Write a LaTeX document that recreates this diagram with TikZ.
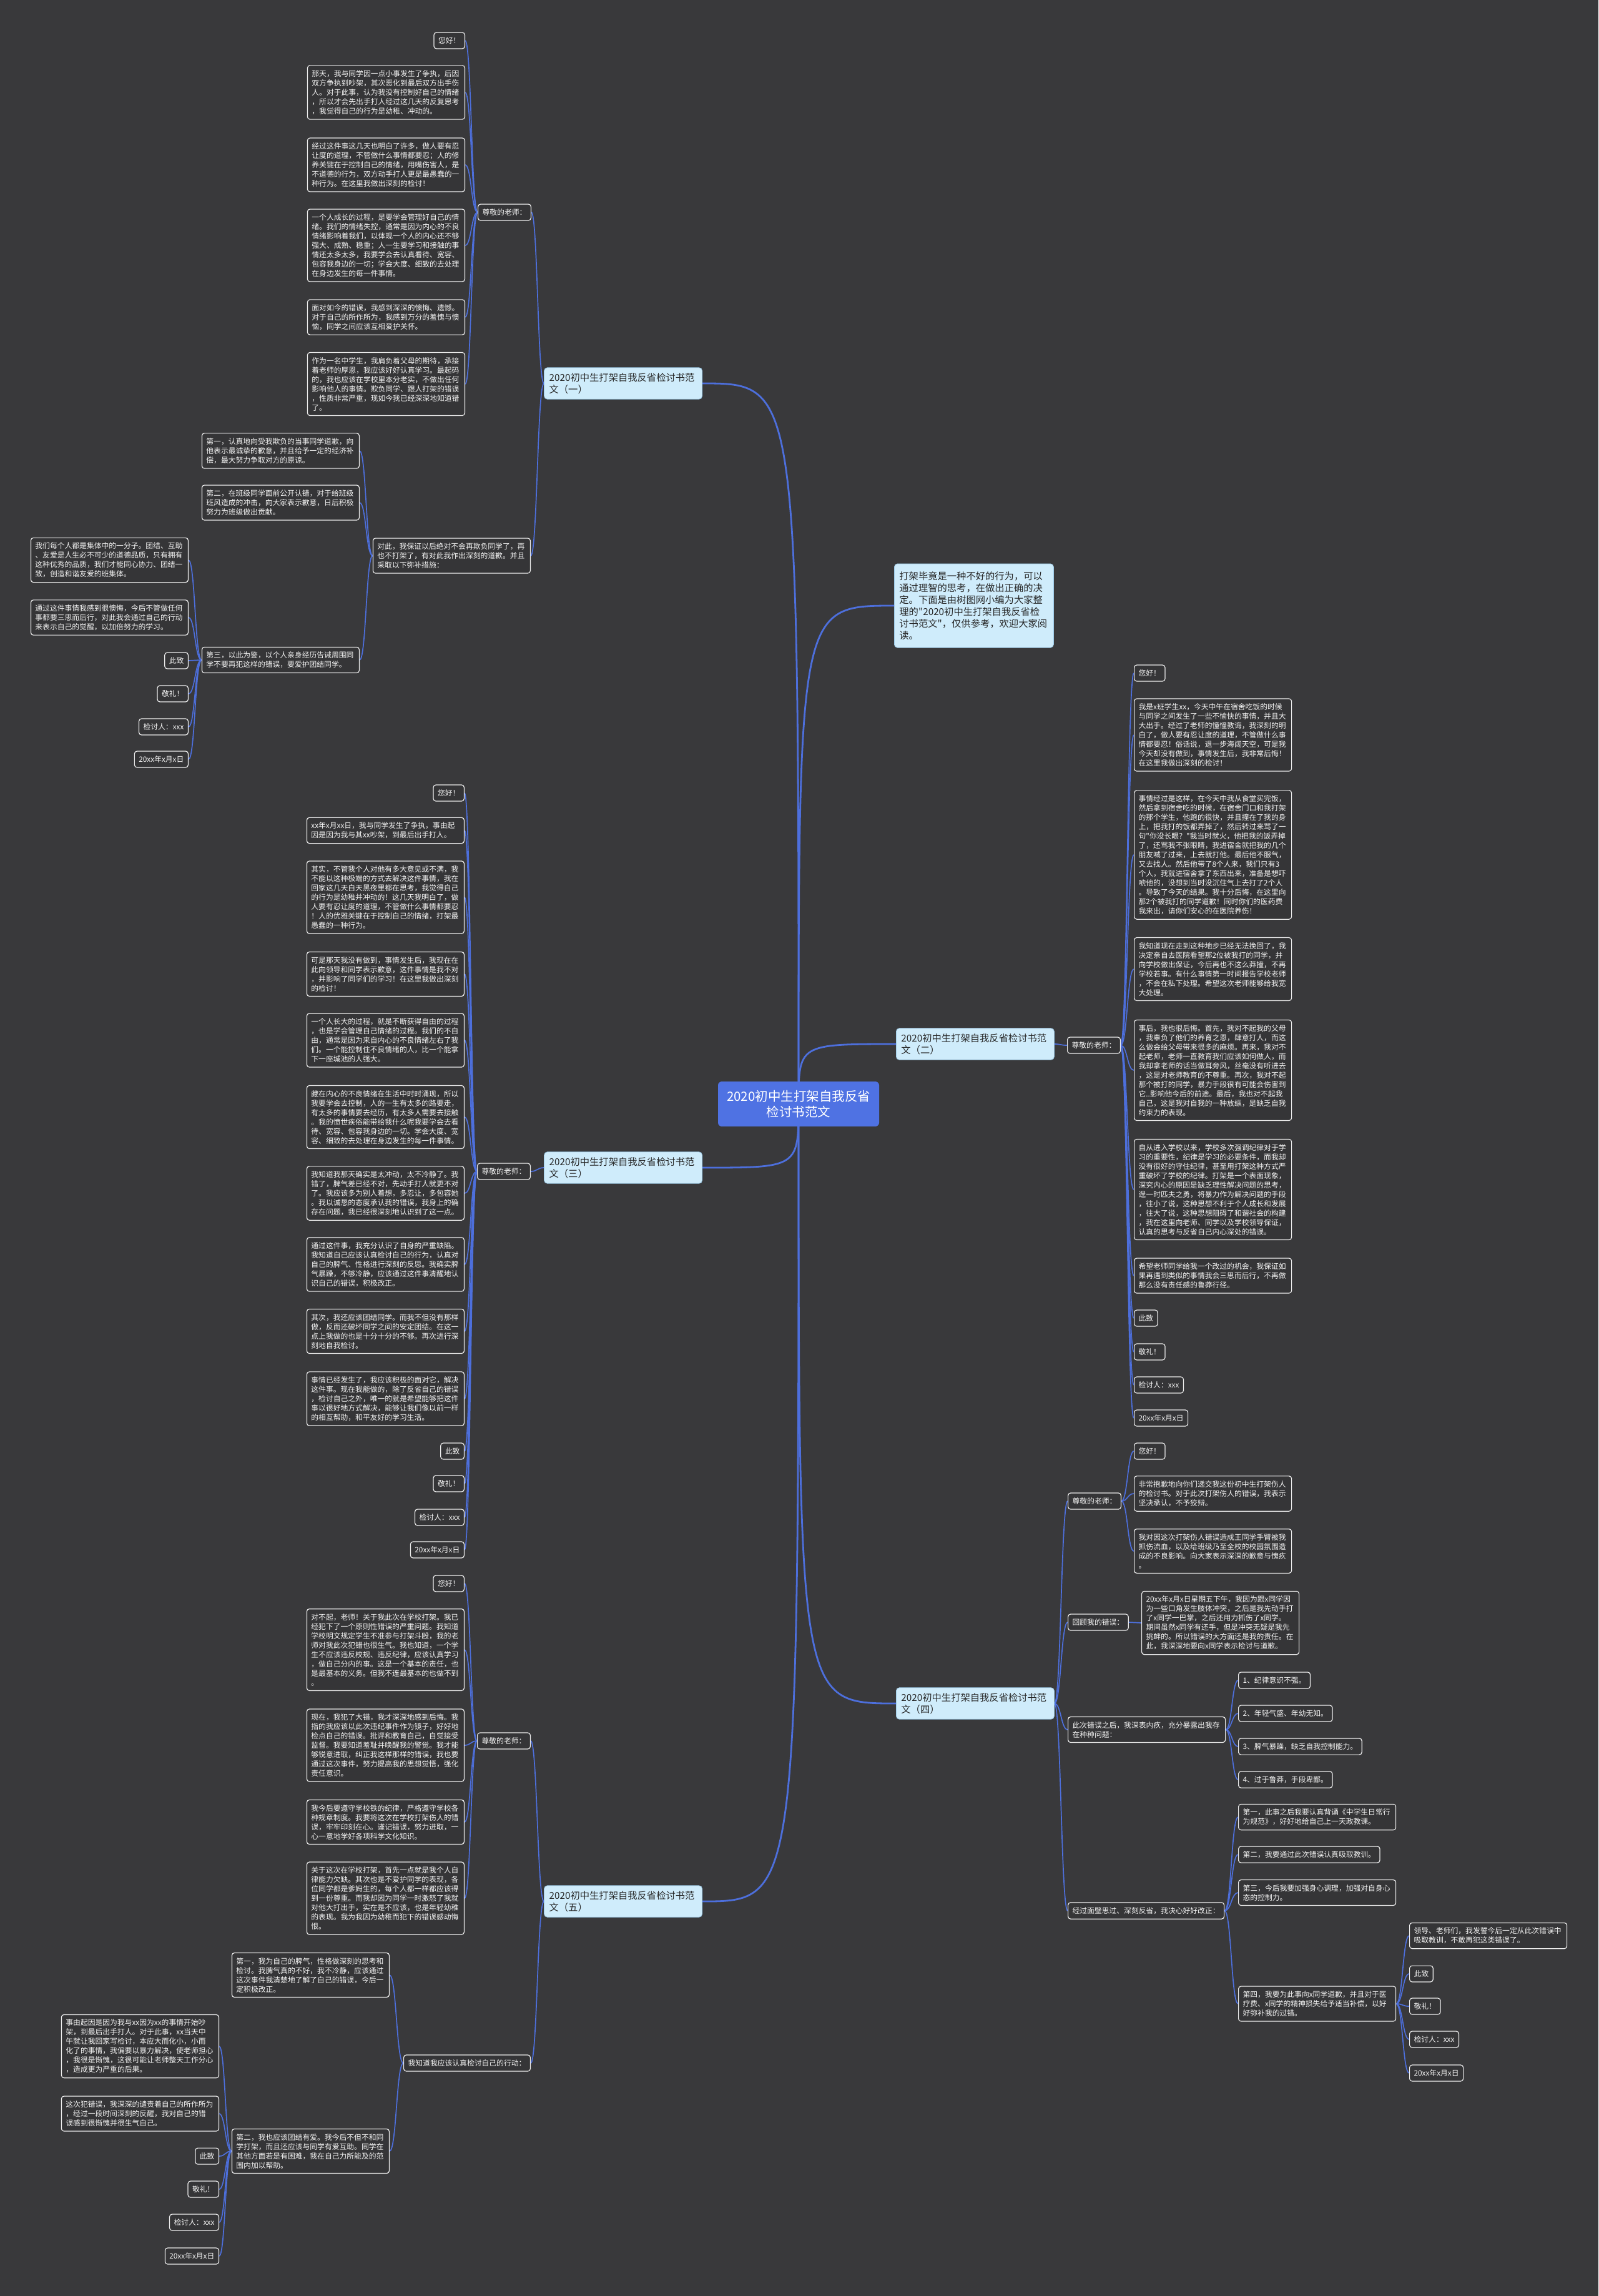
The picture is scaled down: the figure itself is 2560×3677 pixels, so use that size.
\documentclass[tikz,border=0pt]{standalone}
\usepackage{fontspec}
\newfontfamily\cjk{Noto Sans CJK SC}
\usetikzlibrary{calc}
\pgfdeclarelayer{back}
\pgfsetlayers{back,main}
\definecolor{bgc}{HTML}{39393B}
\definecolor{leaffill}{HTML}{353537}
\definecolor{leafline}{HTML}{EDEDED}
\definecolor{leaftext}{HTML}{F4F4F4}
\definecolor{brfill}{HTML}{CFECFB}
\definecolor{brline}{HTML}{9CC9E6}
\definecolor{brtext}{HTML}{262626}
\definecolor{cfill}{HTML}{4F72E3}
\definecolor{conc}{HTML}{4D6FDC}
\tikzset{
 leaf/.style={draw=leafline, line width=1.2pt, fill=leaffill, rounded corners=4pt, text=leaftext,
   font=\cjk\fontsize{11.8pt}{15pt}\selectfont, inner xsep=7pt, inner ysep=7.5pt, align=left},
 lw/.style={leaf, text width=238pt},
 br/.style={fill=brfill, draw=brline, line width=0.8pt, rounded corners=5pt, text=brtext,
   font=\cjk\fontsize{15.3pt}{19pt}\selectfont, inner xsep=8pt, inner ysep=8.5pt, align=left, text width=237pt},
 intro/.style={br, inner ysep=12.5pt, text width=239pt},
 cen/.style={fill=cfill, draw=none, rounded corners=6pt, text=white,
   font=\cjk\fontsize{20.5pt}{25pt}\selectfont, inner xsep=14pt, inner ysep=14pt, align=center},
 conn/.style={draw=conc, line width=1.7pt},
 mconn/.style={draw=conc, line width=2.8pt}
}
\newcommand\lkL[2]{\draw[conn] let \p1=(#1.west), \p2=(#2.east) in (\p1) .. controls ({(\x1+\x2)/2},\y1) and ({(\x1+\x2)/2},\y2) .. (\p2);}
\newcommand\lkR[2]{\draw[conn] let \p1=(#1.east), \p2=(#2.west) in (\p1) .. controls ({(\x1+\x2)/2},\y1) and ({(\x1+\x2)/2},\y2) .. (\p2);}
\begin{document}
\begin{tikzpicture}[x=1pt,y=-1pt]
\useasboundingbox (0,0) rectangle (2560,3677);
% center and branches
\node[cen] (C0) at (1279,1768) {2020初中生打架自我反省\\检讨书范文};
\node[intro, anchor=west] (IN) at (1432,970) {打架毕竟是一种不好的行为，可以\\通过理智的思考，在做出正确的决\\定。下面是由树图网小编为大家整\\理的"2020初中生打架自我反省检\\讨书范文"，仅供参考，欢迎大家阅\\读。};
\node[br, anchor=east] (B1) at (1125,614) {2020初中生打架自我反省检讨书范\\文（一）};
\node[br, anchor=west] (B2) at (1435,1672) {2020初中生打架自我反省检讨书范\\文（二）};
\node[br, anchor=east] (B3) at (1125,1870) {2020初中生打架自我反省检讨书范\\文（三）};
\node[br, anchor=west] (B4) at (1435,2728) {2020初中生打架自我反省检讨书范\\文（四）};
\node[br, anchor=east] (B5) at (1125,3045) {2020初中生打架自我反省检讨书范\\文（五）};
% ---------- branch 1
\node[leaf, anchor=east] (T1) at (851,340) {尊敬的老师：};
\node[leaf, anchor=east] (a1) at (745,65) {您好！};
\node[lw, anchor=east] (a2) at (745,148) {那天，我与同学因一点小事发生了争执，后因\\双方争执到吵架，其次恶化到最后双方出手伤\\人。对于此事，认为我没有控制好自己的情绪\\，所以才会先出手打人经过这几天的反复思考\\，我觉得自己的行为是幼稚、冲动的。};
\node[lw, anchor=east] (a3) at (745,264) {经过这件事这几天也明白了许多，做人要有忍\\让度的道理，不管做什么事情都要忍；人的修\\养关键在于控制自己的情绪，用嘴伤害人，是\\不道德的行为，双方动手打人更是最愚蠢的一\\种行为。在这里我做出深刻的检讨！};
\node[lw, anchor=east] (a4) at (745,393) {一个人成长的过程，是要学会管理好自己的情\\绪。我们的情绪失控，通常是因为内心的不良\\情绪影响着我们，以体现一个人的内心还不够\\强大、成熟、稳重；人一生要学习和接触的事\\情还太多太多，我要学会去认真看待、宽容、\\包容我身边的一切；学会大度、细致的去处理\\在身边发生的每一件事情。};
\node[lw, anchor=east] (a5) at (745,508) {面对如今的错误，我感到深深的懊悔、遗憾。\\对于自己的所作所为，我感到万分的羞愧与懊\\恼，同学之间应该互相爱护关怀。};
\node[lw, anchor=east] (a6) at (745,615) {作为一名中学生，我肩负着父母的期待，承接\\着老师的厚恩，我应该好好认真学习。最起码\\的，我也应该在学校里本分老实，不做出任何\\影响他人的事情。欺负同学、跟人打架的错误\\，性质非常严重，现如今我已经深深地知道错\\了。};
\node[lw, anchor=east] (D1) at (850,890) {对此，我保证以后绝对不会再欺负同学了，再\\也不打架了，有对此我作出深刻的道歉。并且\\采取以下弥补措施：};
\node[lw, anchor=east] (d1) at (576,722) {第一，认真地向受我欺负的当事同学道歉，向\\他表示最诚挚的歉意，并且给予一定的经济补\\偿，最大努力争取对方的原谅。};
\node[lw, anchor=east] (d2) at (576,805) {第二，在班级同学面前公开认错，对于给班级\\班风造成的冲击，向大家表示歉意，日后积极\\努力为班级做出贡献。};
\node[lw, anchor=east] (d3) at (576,1057) {第三，以此为鉴，以个人亲身经历告诫周围同\\学不要再犯这样的错误，要爱护团结同学。};
\node[lw, anchor=east] (e1) at (302,897) {我们每个人都是集体中的一分子。团结、互助\\、友爱是人生必不可少的道德品质，只有拥有\\这种优秀的品质，我们才能同心协力、团结一\\致，创造和谐友爱的班集体。};
\node[lw, anchor=east] (e2) at (302,989) {通过这件事情我感到很懊悔，今后不管做任何\\事都要三思而后行，对此我会通过自己的行动\\来表示自己的觉醒，以加倍努力的学习。};
\node[leaf, anchor=east] (e3) at (302,1058) {此致};
\node[leaf, anchor=east] (e4) at (302,1111) {敬礼！};
\node[leaf, anchor=east] (e5) at (302,1164) {检讨人：xxx};
\node[leaf, anchor=east] (e6) at (302,1216) {20xx年x月x日};
% ---------- branch 2
\node[leaf, anchor=west] (T2) at (1709,1674) {尊敬的老师：};
\node[leaf, anchor=west] (f1) at (1816,1078) {您好！};
\node[lw, anchor=west] (f2) at (1816,1177) {我是x班学生xx，今天中午在宿舍吃饭的时候\\与同学之间发生了一些不愉快的事情，并且大\\大出手。经过了老师的憧憧教诲，我深刻的明\\白了，做人要有忍让度的道理，不管做什么事\\情都要忍！俗话说，退一步海阔天空，可是我\\今天却没有做到，事情发生后，我非常后悔！\\在这里我做出深刻的检讨！};
\node[lw, anchor=west] (f3) at (1816,1369) {事情经过是这样，在今天中我从食堂买完饭，\\然后拿到宿舍吃的时候，在宿舍门口和我打架\\的那个学生，他跑的很快，并且撞在了我的身\\上，把我打的饭都弄掉了，然后转过来骂了一\\句"你没长眼？"我当时就火，他把我的饭弄掉\\了，还骂我不张眼睛，我进宿舍就把我的几个\\朋友喊了过来，上去就打他。最后他不服气，\\又去找人。然后他带了8个人来，我们只有3\\个人，我就进宿舍拿了东西出来，准备是想吓\\唬他的，没想到当时没沉住气上去打了2个人\\。导致了今天的结果。我十分后悔，在这里向\\那2个被我打的同学道歉！同时你们的医药费\\我来出，请你们安心的在医院养伤！};
\node[lw, anchor=west] (f4) at (1816,1552) {我知道现在走到这种地步已经无法挽回了，我\\决定亲自去医院看望那2位被我打的同学，并\\向学校做出保证，今后再也不这么莽撞，不再\\学校若事。有什么事情第一时间报告学校老师\\，不会在私下处理。希望这次老师能够给我宽\\大处理。};
\node[lw, anchor=west] (f5) at (1816,1714) {事后，我也很后悔。首先，我对不起我的父母\\，我辜负了他们的养育之恩，肆意打人，而这\\么做会给父母带来很多的麻烦。再来，我对不\\起老师，老师一直教育我们应该如何做人，而\\我却拿老师的话当做耳旁风，丝毫没有听进去\\，这是对老师教育的不尊重。再次，我对不起\\那个被打的同学，暴力手段很有可能会伤害到\\它..影响他今后的前途。最后，我也对不起我\\自己，这是我对自我的一种放纵，是缺乏自我\\约束力的表现。};
\node[lw, anchor=west] (f6) at (1816,1905) {自从进入学校以来，学校多次强调纪律对于学\\习的重要性，纪律是学习的必要条件，而我却\\没有很好的守住纪律，甚至用打架这种方式严\\重破坏了学校的纪律。打架是一个表面现象，\\深究内心的原因是缺乏理性解决问题的思考，\\逞一时匹夫之勇，将暴力作为解决问题的手段\\，往小了说，这种思想不利于个人成长和发展\\，往大了说，这种思想阻碍了和谐社会的构建\\，我在这里向老师、同学以及学校领导保证，\\认真的思考与反省自己内心深处的错误。};
\node[lw, anchor=west] (f7) at (1816,2043) {希望老师同学给我一个改过的机会，我保证如\\果再遇到类似的事情我会三思而后行，不再做\\那么没有责任感的鲁莽行径。};
\node[leaf, anchor=west] (f8) at (1816,2111) {此致};
\node[leaf, anchor=west] (f9) at (1816,2165) {敬礼！};
\node[leaf, anchor=west] (f10) at (1816,2218) {检讨人：xxx};
\node[leaf, anchor=west] (f11) at (1816,2271) {20xx年x月x日};
% ---------- branch 3
\node[leaf, anchor=east] (T3) at (850,1876) {尊敬的老师：};
\node[leaf, anchor=east] (g1) at (744,1270) {您好！};
\node[lw, anchor=east] (g2) at (744,1330) {xx年x月xx日，我与同学发生了争执，事由起\\因是因为我与其xx吵架，到最后出手打人。};
\node[lw, anchor=east] (g3) at (744,1437) {其实，不管我个人对他有多大意见或不满，我\\不能以这种极端的方式去解决这件事情，我在\\回家这几天白天黑夜里都在思考，我觉得自己\\的行为是幼稚并冲动的！这几天我明白了，做\\人要有忍让度的道理，不管做什么事情都要忍\\！人的优雅关键在于控制自己的情绪，打架最\\愚蠢的一种行为。};
\node[lw, anchor=east] (g4) at (744,1560) {可是那天我没有做到，事情发生后，我现在在\\此向领导和同学表示歉意，这件事情是我不对\\，并影响了同学们的学习！在这里我做出深刻\\的检讨！};
\node[lw, anchor=east] (g5) at (744,1666) {一个人长大的过程，就是不断获得自由的过程\\，也是学会管理自己情绪的过程。我们的不自\\由，通常是因为来自内心的不良情绪左右了我\\们。一个能控制住不良情绪的人，比一个能拿\\下一座城池的人强大。};
\node[lw, anchor=east] (g6) at (744,1789) {藏在内心的不良情绪在生活中时时涌现，所以\\我要学会去控制，人的一生有太多的路要走，\\有太多的事情要去经历，有太多人需要去接触\\。我的愤世疾俗能带给我什么呢我要学会去看\\待、宽容、包容我身边的一切。学会大度、宽\\容、细致的去处理在身边发生的每一件事情。};
\node[lw, anchor=east] (g7) at (744,1911) {我知道我那天确实是太冲动，太不冷静了。我\\错了，脾气差已经不对，先动手打人就更不对\\了。我应该多为别人着想，多忍让，多包容她\\。我以诚恳的态度承认我的错误，我身上的确\\存在问题，我已经很深刻地认识到了这一点。};
\node[lw, anchor=east] (g8) at (744,2025) {通过这件事，我充分认识了自身的严重缺陷。\\我知道自己应该认真检讨自己的行为，认真对\\自己的脾气、性格进行深刻的反思。我确实脾\\气暴躁，不够冷静，应该通过这件事清醒地认\\识自己的错误，积极改正。};
\node[lw, anchor=east] (g9) at (744,2132) {其次，我还应该团结同学。而我不但没有那样\\做，反而还破坏同学之间的安定团结。在这一\\点上我做的也是十分十分的不够。再次进行深\\刻地自我检讨。};
\node[lw, anchor=east] (g10) at (744,2240) {事情已经发生了，我应该积极的面对它，解决\\这件事。现在我能做的，除了反省自己的错误\\，检讨自己之外，唯一的就是希望能够把这件\\事以很好地方式解决，能够让我们像以前一样\\的相互帮助，和平友好的学习生活。};
\node[leaf, anchor=east] (g11) at (744,2324) {此致};
\node[leaf, anchor=east] (g12) at (744,2376) {敬礼！};
\node[leaf, anchor=east] (g13) at (744,2430) {检讨人：xxx};
\node[leaf, anchor=east] (g14) at (744,2482) {20xx年x月x日};
% ---------- branch 4
\node[leaf, anchor=west] (H1) at (1710,2404) {尊敬的老师：};
\node[leaf, anchor=west] (h1) at (1816,2324) {您好！};
\node[lw, anchor=west] (h2) at (1816,2392) {非常抱歉地向你们递交我这份初中生打架伤人\\的检讨书。对于此次打架伤人的错误，我表示\\坚决承认，不予狡辩。};
\node[lw, anchor=west] (h3) at (1816,2484) {我对因这次打架伤人错误造成王同学手臂被我\\抓伤流血，以及给班级乃至全校的校园氛围造\\成的不良影响。向大家表示深深的歉意与愧疚\\。};
\node[leaf, anchor=west] (H2) at (1710,2598) {回顾我的错误：};
\node[lw, anchor=west] (h4) at (1828,2599) {20xx年x月x日星期五下午，我因为跟x同学因\\为一些口角发生肢体冲突，之后是我先动手打\\了x同学一巴掌，之后还用力抓伤了x同学。\\期间虽然x同学有还手，但是冲突无疑是我先\\挑衅的。所以错误的大方面还是我的责任。在\\此，我深深地要向x同学表示检讨与道歉。};
\node[lw, anchor=west] (H3) at (1710,2770) {此次错误之后，我深表内疚，充分暴露出我存\\在种种问题：};
\node[leaf, anchor=west] (h5) at (1983,2691) {1、纪律意识不强。};
\node[leaf, anchor=west] (h6) at (1983,2744) {2、年轻气盛、年幼无知。};
\node[leaf, anchor=west] (h7) at (1983,2797) {3、脾气暴躁，缺乏自我控制能力。};
\node[leaf, anchor=west] (h8) at (1983,2850) {4、过于鲁莽，手段卑鄙。};
\node[leaf, anchor=west] (H4) at (1710,3060) {经过面壁思过、深刻反省，我决心好好改正：};
\node[lw, anchor=west] (h9) at (1983,2910) {第一，此事之后我要认真背诵《中学生日常行\\为规范》，好好地给自己上一天政教课。};
\node[leaf, anchor=west] (h10) at (1983,2970) {第二，我要通过此次错误认真吸取教训。};
\node[lw, anchor=west] (h11) at (1983,3031) {第三，今后我要加强身心调理，加强对自身心\\态的控制力。};
\node[lw, anchor=west] (h12) at (1983,3209) {第四，我要为此事向x同学道歉，并且对于医\\疗费、x同学的精神损失给予适当补偿，以好\\好弥补我的过错。};
\node[lw, anchor=west] (k1) at (2257,3100) {领导、老师们，我发誓今后一定从此次错误中\\吸取教训，不敢再犯这类错误了。};
\node[leaf, anchor=west] (k2) at (2257,3161) {此致};
\node[leaf, anchor=west] (k3) at (2257,3213) {敬礼！};
\node[leaf, anchor=west] (k4) at (2257,3266) {检讨人：xxx};
\node[leaf, anchor=west] (k5) at (2257,3320) {20xx年x月x日};
% ---------- branch 5
\node[leaf, anchor=east] (T5) at (850,2788) {尊敬的老师：};
\node[leaf, anchor=east] (m1) at (744,2536) {您好！};
\node[lw, anchor=east] (m2) at (744,2642) {对不起，老师！关于我此次在学校打架。我已\\经犯下了一个原则性错误的严重问题。我知道\\学校明文规定学生不准参与打架斗殴，我的老\\师对我此次犯错也很生气。我也知道，一个学\\生不应该违反校规、违反纪律，应该认真学习\\，做自己分内的事。这是一个基本的责任，也\\是最基本的义务。但我不连最基本的也做不到\\。};
\node[lw, anchor=east] (m3) at (744,2795) {现在，我犯了大错，我才深深地感到后悔。我\\指的我应该以此次违纪事件作为镜子，好好地\\检点自己的错误。批评和教育自己，自觉接受\\监督。我要知道羞耻并唤醒我的警觉。我才能\\够锐意进取，纠正我这样那样的错误，我也要\\通过这次事件，努力提高我的思想觉悟，强化\\责任意识。};
\node[lw, anchor=east] (m4) at (744,2918) {我今后要遵守学校铁的纪律，严格遵守学校各\\种规章制度。我要将这次在学校打架伤人的错\\误，牢牢印刻在心。谨记错误，努力进取，一\\心一意地学好各项科学文化知识。};
\node[lw, anchor=east] (m5) at (744,3040) {关于这次在学校打架，首先一点就是我个人自\\律能力欠缺。其次也是不爱护同学的表现，各\\位同学都是爹妈生的，每个人都一样都应该得\\到一份尊重。而我却因为同学一时激怒了我就\\对他大打出手，实在是不应该，也是年轻幼稚\\的表现。我为我因为幼稚而犯下的错误感动悔\\恨。};
\node[leaf, anchor=east] (M2) at (850,3304) {我知道我应该认真检讨自己的行动：};
\node[lw, anchor=east] (n1) at (624,3163) {第一，我为自己的脾气，性格做深刻的思考和\\检讨。我脾气真的不好，我不冷静，应该通过\\这次事件我清楚地了解了自己的错误，今后一\\定积极改正。};
\node[lw, anchor=east] (n2) at (624,3445) {第二，我也应该团结有爱。我今后不但不和同\\学打架，而且还应该与同学有爱互助。同学在\\其他方面若是有困难，我在自己力所能及的范\\围内加以帮助。};
\node[lw, anchor=east] (p1) at (351,3277) {事由起因是因为我与xx因为xx的事情开始吵\\架，到最后出手打人。对于此事，xx当天中\\午就让我回家写检讨，本应大而化小，小而\\化了的事情，我偏要以暴力解决，使老师担心\\，我很是惭愧，这很可能让老师整天工作分心\\，造成更为严重的后果。};
\node[lw, anchor=east] (p2) at (351,3385) {这次犯错误，我深深的谴责着自己的所作所为\\，经过一段时间深刻的反醒，我对自己的错\\误感到很惭愧并很生气自己。};
\node[leaf, anchor=east] (p3) at (351,3453) {此致};
\node[leaf, anchor=east] (p4) at (351,3506) {敬礼！};
\node[leaf, anchor=east] (p5) at (351,3559) {检讨人：xxx};
\node[leaf, anchor=east] (p6) at (351,3613) {20xx年x月x日};
% ---------- connectors
\begin{pgfonlayer}{back}
\fill[bgc] (0,0) rectangle (2560,3677);
\draw[mconn] (C0.center) .. controls (C0.center |- IN.west) .. (IN.west);
\draw[mconn] (C0.center) .. controls (C0.center |- B1.east) .. (B1.east);
\draw[mconn] (C0.center) .. controls (C0.center |- B2.west) .. (B2.west);
\draw[mconn] (C0.center) .. controls (C0.center |- B3.east) .. (B3.east);
\draw[mconn] (C0.center) .. controls (C0.center |- B4.west) .. (B4.west);
\draw[mconn] (C0.center) .. controls (C0.center |- B5.east) .. (B5.east);
\lkL{B1}{T1} \lkL{B1}{D1}
\foreach \c in {a1,a2,a3,a4,a5,a6} {\lkL{T1}{\c}}
\foreach \c in {d1,d2,d3} {\lkL{D1}{\c}}
\foreach \c in {e1,e2,e3,e4,e5,e6} {\lkL{d3}{\c}}
\lkR{B2}{T2}
\foreach \c in {f1,f2,f3,f4,f5,f6,f7,f8,f9,f10,f11} {\lkR{T2}{\c}}
\lkL{B3}{T3}
\foreach \c in {g1,g2,g3,g4,g5,g6,g7,g8,g9,g10,g11,g12,g13,g14} {\lkL{T3}{\c}}
\foreach \c in {H1,H2,H3,H4} {\lkR{B4}{\c}}
\foreach \c in {h1,h2,h3} {\lkR{H1}{\c}}
\lkR{H2}{h4}
\foreach \c in {h5,h6,h7,h8} {\lkR{H3}{\c}}
\foreach \c in {h9,h10,h11,h12} {\lkR{H4}{\c}}
\foreach \c in {k1,k2,k3,k4,k5} {\lkR{h12}{\c}}
\lkL{B5}{T5} \lkL{B5}{M2}
\foreach \c in {m1,m2,m3,m4,m5} {\lkL{T5}{\c}}
\foreach \c in {n1,n2} {\lkL{M2}{\c}}
\foreach \c in {p1,p2,p3,p4,p5,p6} {\lkL{n2}{\c}}
\end{pgfonlayer}
\end{tikzpicture}
\end{document}
